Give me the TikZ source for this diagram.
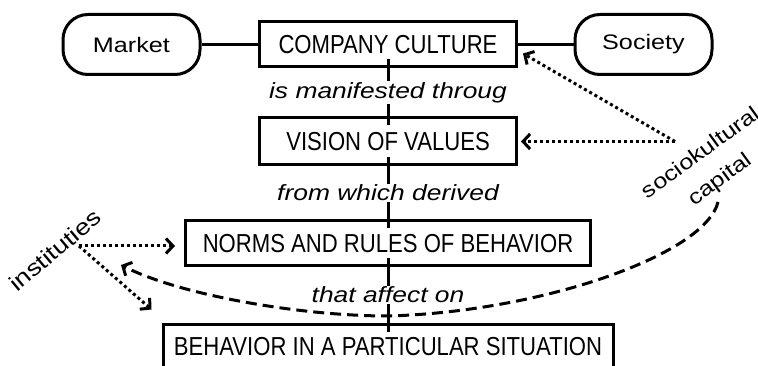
\documentclass[tikz,border=0pt]{standalone}
\usepackage{fontspec}
\setmainfont{Liberation Sans}
\newfontfamily\capsfont[FakeStretch=0.85]{Liberation Sans}
\newfontfamily\widefont[FakeStretch=1.2]{Liberation Sans}
\usetikzlibrary{arrows.meta}

\begin{document}
\begin{tikzpicture}[x=1pt, y=-1pt,
    box/.style={draw, line width=3pt, minimum height=45pt, inner sep=0pt,
      font=\capsfont\fontsize{26}{28}\selectfont},
    pill/.style={draw, line width=3pt, rounded corners=25pt, minimum width=137pt,
      minimum height=60pt, font=\widefont\fontsize{21}{24}\selectfont},
    verb/.style={fill=white, inner sep=1pt, font=\widefont\itshape\fontsize{22}{24}\selectfont},
    word/.style={inner sep=0pt, align=center, font=\widefont\fontsize{21}{33}\selectfont},
    link/.style={line width=3pt},
    dotarrow/.style={line width=3pt, dash pattern=on 3pt off 3pt,
      -{Straight Barb[length=7pt,width=15pt]}},
    dasharrow/.style={line width=3pt, dash pattern=on 11pt off 6pt,
      -{Straight Barb[length=7pt,width=15pt]}}]
  \useasboundingbox (0,0) rectangle (758,366);

  % Main chain of boxes
  \node[box, minimum width=257pt] (culture) at (388,44.5) {COMPANY CULTURE};
  \node[box, minimum width=257pt, minimum height=47pt] (vision) at (388,141.5) {VISION OF VALUES};
  \node[box, minimum width=405pt] (norms) at (388,243.5) {NORMS AND RULES OF BEHAVIOR};
  \node[box, minimum width=450pt] (behavior) at (388,346.5) {BEHAVIOR IN A PARTICULAR SITUATION};

  % Side terms
  \node[pill] (market) at (131.5,44.5) {Market};
  \node[pill] (society) at (643.5,44.5) {Society};
  \draw[link] (market) -- (culture);
  \draw[link] (culture) -- (society);

  % Vertical links with their verbs
  \draw[link, shorten <=-9pt, shorten >=-9pt] (culture) -- node[verb] {is manifested throug} (vision);
  \draw[link, shorten <=-9pt, shorten >=-9pt] (vision) -- node[verb] {from which derived} (norms);
  \draw[link, shorten <=-9pt, shorten >=-9pt] (norms) -- node[verb] {that affect on} (behavior);

  % Influences
  \node[word, rotate=36] (capital) at (711,167) {sociokultural\\capital};
  \node[word, rotate=40, font=\widefont\fontsize{22.5}{24}\selectfont] (instit) at (55,250) {instituties};
  \coordinate (sk) at (675,141.5);
  \coordinate (in) at (79,246);
  \coordinate (cp) at (718,202);
  \coordinate (low) at (388,316);
  \coordinate (back) at (121,265);

  \draw[dotarrow] (sk) -- ([xshift=5pt, yshift=15pt]culture.south east);
  \draw[dotarrow] (sk) -- ([xshift=3pt]vision.east);
  \draw[dotarrow] (in) -- ([xshift=-9pt, yshift=-2.5pt]norms.west);
  \draw[dotarrow] (in) -- ([xshift=-10pt, yshift=13pt]behavior.north west);
  \draw[dasharrow] (cp) .. controls (705,255) and (540,312) .. (low)
    .. controls (300,316) and (180,295) .. (back);
\end{tikzpicture}
\end{document}
